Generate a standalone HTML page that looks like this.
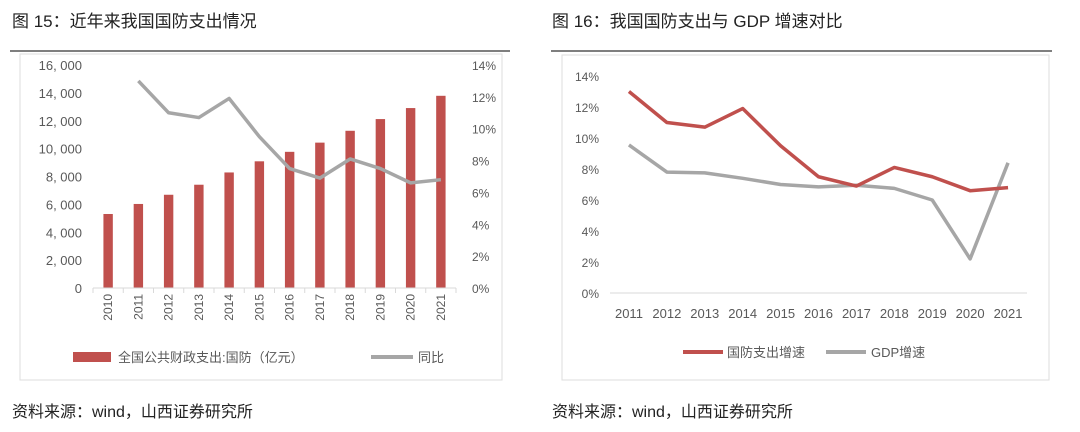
<!DOCTYPE html>
<html><head><meta charset="utf-8"><style>
body{margin:0;width:1080px;height:432px;background:#fff;overflow:hidden;font-family:"Liberation Sans","Noto Sans CJK SC",sans-serif}
svg{display:block}
</style></head><body>
<svg id="s" width="1080" height="432" font-family="Liberation Sans, Noto Sans CJK SC, sans-serif">
<text x="12" y="27" font-size="17" fill="#222">图 15：近年来我国国防支出情况</text>
<text x="552" y="27" font-size="17" fill="#222">图 16：我国国防支出与 GDP 增速对比</text>
<line x1="10" y1="51" x2="510" y2="51" stroke="#555" stroke-width="1.5"/>
<line x1="551" y1="51" x2="1052" y2="51" stroke="#555" stroke-width="1.5"/>
<rect x="20" y="54" width="482" height="326" fill="none" stroke="#ddd"/>
<rect x="562" y="55" width="487" height="325" fill="none" stroke="#ddd"/>
<text x="12" y="417" font-size="16" fill="#222">资料来源：wind，山西证券研究所</text>
<text x="552" y="417" font-size="16" fill="#222">资料来源：wind，山西证券研究所</text>
<g id="L"></g><g id="R"></g>
<rect x="73" y="352" width="38" height="10" fill="#c0504d"/>
<text x="118" y="362" font-size="13" fill="#595959">全国公共财政支出:国防（亿元）</text>
<line x1="371" y1="357" x2="413" y2="357" stroke="#a6a6a6" stroke-width="4"/>
<text x="418" y="362" font-size="13" fill="#595959">同比</text>
<line x1="683" y1="352" x2="723" y2="352" stroke="#c0504d" stroke-width="4"/>
<text x="727" y="357" font-size="13" fill="#595959">国防支出增速</text>
<line x1="826" y1="352" x2="866" y2="352" stroke="#a6a6a6" stroke-width="4"/>
<text x="871" y="357" font-size="13" fill="#595959">GDP增速</text>
</svg>
<script>
const years=["2010","2011","2012","2013","2014","2015","2016","2017","2018","2019","2020","2021"];
const spend=[5310,6030,6690,7410,8290,9090,9770,10430,11280,12120,12910,13790];
const yoy=[null,13.0,11.0,10.7,11.9,9.5,7.5,6.9,8.1,7.5,6.6,6.8];
const leftTicks=["0","2, 000","4, 000","6, 000","8, 000","10, 000","12, 000","14, 000","16, 000"];
const pctTicks=["0%","2%","4%","6%","8%","10%","12%","14%"];
const years2=["2011","2012","2013","2014","2015","2016","2017","2018","2019","2020","2021"];
const defense=[13.0,11.0,10.7,11.9,9.5,7.5,6.9,8.1,7.5,6.6,6.8];
const gdp=[9.55,7.8,7.75,7.4,7.0,6.85,6.95,6.75,6.0,2.2,8.4];
const NS="http://www.w3.org/2000/svg";
function mk(p,t,a){const e=document.createElementNS(NS,t);for(const k in a)e.setAttribute(k,a[k]);p.appendChild(e);return e;}
// Left chart
const L=document.getElementById('L');
const lx0=93,lx1=456,ly0=288,ly1=65,cw=(lx1-lx0)/years.length;
const yL=v=>ly0-(v/16000)*(ly0-ly1), yP=v=>ly0-(v/14)*(ly0-ly1), xL=i=>lx0+cw*(i+0.5);
leftTicks.forEach((t,i)=>{const e=mk(L,'text',{x:82,y:ly0-i*(ly0-ly1)/8+5,'font-size':13,fill:'#595959','text-anchor':'end'});e.textContent=t;

});
pctTicks.forEach((t,i)=>{const e=mk(L,'text',{x:472,y:ly0-i*(ly0-ly1)/7+5,'font-size':12,fill:'#595959'});e.textContent=t;

});
spend.forEach((v,i)=>{const e=mk(L,'rect',{x:xL(i)-4.7,y:yL(v),width:9.4,height:ly0-yL(v),fill:'#c0504d'});

});
let ax=mk(L,'line',{x1:lx0,y1:ly0,x2:lx1,y2:ly0,stroke:'#d9d9d9'});


years.forEach((y,i)=>{mk(L,'line',{x1:lx0+cw*i,y1:ly0,x2:lx0+cw*i,y2:ly0+5,stroke:'#d9d9d9'});
const e=mk(L,'text',{x:0,y:0,'font-size':12,fill:'#595959','text-anchor':'end',transform:`translate(${xL(i)+4},${ly0+6}) rotate(-90)`});e.textContent=y;

});
mk(L,'line',{x1:lx1,y1:ly0,x2:lx1,y2:ly0+5,stroke:'#d9d9d9'});
let pts=[];yoy.forEach((v,i)=>{if(v!=null)pts.push(xL(i)+','+yP(v));});
let pl=mk(L,'polyline',{points:pts.join(' '),fill:'none',stroke:'#a6a6a6','stroke-width':3.5,'stroke-linejoin':'round'});


// Right chart
const R=document.getElementById('R');
const rx0=610,rx1=1027,ry0=293,ry1=76,cw2=(rx1-rx0)/years2.length;
const xR=i=>rx0+cw2*(i+0.5), yR=v=>ry0-(v/14)*(ry0-ry1);
pctTicks.forEach((t,i)=>{const e=mk(R,'text',{x:599,y:ry0-i*(ry0-ry1)/7+5,'font-size':12,fill:'#595959','text-anchor':'end'});e.textContent=t;

});
ax=mk(R,'line',{x1:rx0,y1:ry0,x2:rx1,y2:ry0,stroke:'#d9d9d9'});


years2.forEach((y,i)=>{const e=mk(R,'text',{x:xR(i),y:318,'font-size':13,fill:'#595959','text-anchor':'middle'});e.textContent=y;

});
pl=mk(R,'polyline',{points:gdp.map((v,i)=>xR(i)+','+yR(v)).join(' '),fill:'none',stroke:'#a6a6a6','stroke-width':3.5,'stroke-linejoin':'round'});


pl=mk(R,'polyline',{points:defense.map((v,i)=>xR(i)+','+yR(v)).join(' '),fill:'none',stroke:'#c0504d','stroke-width':3.5,'stroke-linejoin':'round'});


</script>
</body></html>
